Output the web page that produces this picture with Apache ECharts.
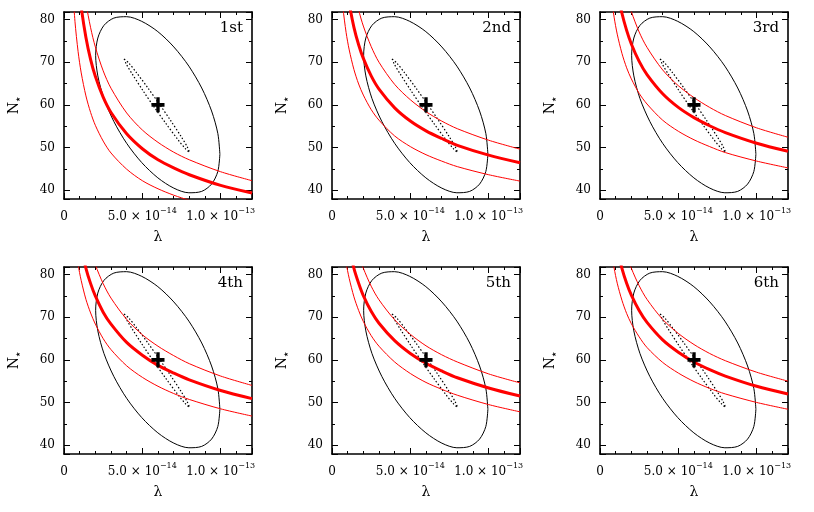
<!DOCTYPE html>
<html>
<head>
<meta charset="utf-8">
<script src="https://cdn.jsdelivr.net/npm/echarts@6.0.0/dist/echarts.min.js"></script>
<style>
  html, body { margin: 0; padding: 0; background: #fff; }
  #chart { width: 814px; height: 512px; }
</style>
</head>
<body>
<div id="chart"></div>
<script>
// lambda values are in units of 1e-14
const lambdaGrid = [0.5, 0.7, 0.9, 1.1, 1.4, 1.7, 2, 2.5, 3, 4, 5, 6, 7, 8, 10, 12]
const panelNames = ['1st', '2nd', '3rd', '4th', '5th', '6th']

// red bands (N* at every lambdaGrid point)
const lowerCurves = [
  [90.5, 79.6, 72.5, 67.5, 62.1, 58.2, 55.2, 51.5, 48.7, 44.9, 42.2, 40.3, 38.8, 37.6, 35.7, 34.3],
  [91.4, 82.8, 77.0, 72.9, 68.3, 64.9, 62.3, 58.9, 56.4, 52.7, 50.2, 48.3, 46.8, 45.5, 43.6, 42.1],
  [94.2, 86.1, 80.6, 76.6, 72.1, 68.7, 66.1, 62.7, 60.2, 56.4, 53.8, 51.8, 50.2, 48.8, 46.8, 45.2],
  [95.2, 87.6, 82.4, 78.6, 74.2, 71.0, 68.4, 65.0, 62.4, 58.6, 55.9, 53.8, 52.1, 50.7, 48.5, 46.8],
  [95.3, 87.9, 82.8, 79.1, 74.8, 71.6, 69.0, 65.7, 63.2, 59.5, 56.8, 54.7, 53.1, 51.7, 49.5, 47.8],
  [93.5, 86.4, 81.6, 78.0, 74.0, 70.9, 68.5, 65.4, 62.9, 59.4, 56.9, 54.9, 53.3, 52.0, 50.0, 48.4]
]
const centralCurves = [
  [113.0, 98.7, 89.4, 82.9, 75.8, 70.6, 66.7, 61.8, 58.2, 53.2, 49.7, 47.1, 45.2, 43.6, 41.1, 39.3],
  [106.3, 95.9, 88.9, 83.8, 78.2, 74.1, 70.9, 66.8, 63.7, 59.3, 56.2, 53.9, 52.1, 50.5, 48.2, 46.4],
  [108.1, 98.3, 91.7, 86.9, 81.5, 77.5, 74.3, 70.2, 67.1, 62.6, 59.4, 57.0, 55.1, 53.5, 51.0, 49.1],
  [104.8, 96.4, 90.7, 86.4, 81.5, 77.9, 75.0, 71.2, 68.4, 64.1, 61.1, 58.7, 56.9, 55.3, 52.8, 50.9],
  [104.4, 96.1, 90.5, 86.3, 81.5, 78.0, 75.1, 71.4, 68.6, 64.5, 61.5, 59.2, 57.4, 55.8, 53.4, 51.5],
  [104.1, 95.9, 90.4, 86.2, 81.5, 78.0, 75.2, 71.6, 68.8, 64.7, 61.8, 59.5, 57.7, 56.2, 53.8, 52.0]
]
const upperCurves = [
  [126.6, 110.2, 99.6, 92.1, 84.0, 78.1, 73.6, 68.0, 63.9, 58.1, 54.1, 51.2, 48.9, 47.1, 44.3, 42.2],
  [120.4, 108.0, 99.8, 93.8, 87.2, 82.3, 78.5, 73.7, 70.0, 64.8, 61.2, 58.4, 56.2, 54.4, 51.7, 49.6],
  [121.5, 110.0, 102.3, 96.7, 90.3, 85.6, 81.9, 77.1, 73.5, 68.2, 64.5, 61.7, 59.4, 57.5, 54.6, 52.4],
  [117.4, 107.5, 100.7, 95.7, 90.0, 85.7, 82.3, 77.9, 74.5, 69.5, 65.9, 63.2, 61.0, 59.1, 56.2, 54.0],
  [114.8, 105.4, 99.0, 94.2, 88.8, 84.7, 81.5, 77.3, 74.1, 69.4, 66.0, 63.3, 61.2, 59.5, 56.7, 54.6],
  [114.4, 105.1, 98.8, 94.0, 88.7, 84.7, 81.5, 77.4, 74.2, 69.5, 66.2, 63.6, 61.5, 59.8, 57.1, 55.0]
]

// black contour (same in every panel)
const ellipseLambda = [9.95, 9.82, 9.42, 8.79, 7.97, 7.01, 5.99, 4.96, 4.00, 3.18, 2.55, 2.16, 2.02,
  2.16, 2.55, 3.18, 4.00, 4.96, 5.99, 7.01, 7.97, 8.79, 9.42, 9.82, 9.95]
const ellipseN = [48.42, 53.26, 58.56, 63.96, 69.09, 73.60, 77.19, 79.61, 80.70, 80.37, 78.66, 75.69, 71.64,
  66.80, 61.50, 56.11, 50.97, 46.46, 42.87, 40.45, 39.36, 39.69, 41.40, 44.38, 48.42]

// narrow dotted contour
const innerLambda = [3.84, 4.12, 4.58, 5.34, 6.08, 6.80, 7.50, 7.87, 8.01, 7.73, 7.27, 6.51, 5.77, 5.05, 4.36, 3.98, 3.84]
const innerN = [70.80, 69.88, 67.80, 64.05, 60.23, 56.36, 52.43, 50.13, 48.85, 49.77, 51.85, 55.60, 59.42, 63.29, 67.22, 69.52, 70.80]

const bestFit = [6.0, 60]

const xTickValues = [0, 5, 10]
const xTickMantissa = ['0', '5.0', '1.0']
const xTickExponent = ['', '\u221214', '\u221213']

const serif = '"DejaVu Serif", serif'
const cols = [64, 332, 600]
const rows = [12, 267]
const W = 188
const H = 187

const pairs = (xs, ys) => xs.map((x, k) => [x, ys[k]])

const xLabel = (v) => {
  const idx = xTickValues.indexOf(v)
  if (idx < 0) return ''
  if (!xTickExponent[idx]) return '{m|' + xTickMantissa[idx] + '}'
  return '{m|' + xTickMantissa[idx] + ' \u00d7 10}{e|' + xTickExponent[idx] + '}'
}

const tickStyle = { color: '#000', width: 1 }
const frameStyle = { color: '#000', width: 1.6 }

const grids = []
const xAxes = []
const yAxes = []
const series = []
const texts = []

panelNames.forEach((name, i) => {
  const left = cols[i % 3]
  const top = rows[Math.floor(i / 3)]
  grids.push({ left: left, top: top, width: W, height: H })

  const baseX = {
    gridIndex: i, type: 'value', min: 0, max: 12, interval: 5,
    splitLine: { show: false },
    axisLine: { show: true, onZero: false, lineStyle: frameStyle },
    axisTick: { inside: true, length: 6, lineStyle: tickStyle },
    minorTick: { show: true, splitNumber: 5, length: 3, lineStyle: tickStyle }
  }
  xAxes.push(Object.assign({}, baseX, {
    position: 'bottom',
    name: 'λ', nameLocation: 'middle', nameGap: 31,
    nameTextStyle: { fontFamily: serif, fontSize: 14, color: '#000' },
    axisLabel: {
      margin: 8, showMaxLabel: false, formatter: xLabel,
      rich: {
        m: { fontFamily: serif, fontSize: 12, lineHeight: 16, verticalAlign: 'bottom', color: '#000' },
        e: { fontFamily: serif, fontSize: 8, lineHeight: 8, verticalAlign: 'top', color: '#000' }
      }
    }
  }))
  xAxes.push(Object.assign({}, baseX, { position: 'top', axisLabel: { show: false } }))

  const baseY = {
    gridIndex: i, type: 'value', min: 37.9, max: 81.8, splitNumber: 5,
    splitLine: { show: false },
    axisLine: { show: true, onZero: false, lineStyle: frameStyle },
    axisTick: { inside: true, length: 6, lineStyle: tickStyle },
    minorTick: { show: true, splitNumber: 2, length: 3, lineStyle: tickStyle }
  }
  yAxes.push(Object.assign({}, baseY, {
    position: 'left',
    name: '{n|N}{s|★}', nameLocation: 'middle', nameGap: 43,
    nameTextStyle: {
      rich: {
        n: { fontFamily: serif, fontSize: 14, lineHeight: 16, verticalAlign: 'bottom', color: '#000' },
        s: { fontFamily: '"DejaVu Sans", sans-serif', fontSize: 6, lineHeight: 6, verticalAlign: 'bottom', color: '#000' }
      }
    },
    axisLabel: {
      margin: 9, showMinLabel: false, showMaxLabel: false,
      fontFamily: serif, fontSize: 12, color: '#000',
      formatter: (v) => (v % 10 === 0 ? String(v) : '')
    }
  }))
  yAxes.push(Object.assign({}, baseY, { position: 'right', axisLabel: { show: false } }))

  const ax = { xAxisIndex: 2 * i, yAxisIndex: 2 * i }
  series.push(Object.assign({
    type: 'line', data: pairs(ellipseLambda, ellipseN), smooth: 0.3,
    showSymbol: false, lineStyle: { color: '#000', width: 1 }
  }, ax))
  series.push(Object.assign({
    type: 'line', data: pairs(innerLambda, innerN), smooth: 0.3,
    showSymbol: false, lineStyle: { color: '#000', width: 1.2, type: [1.5, 2] }
  }, ax))
  series.push(Object.assign({
    type: 'line', data: pairs(lambdaGrid, lowerCurves[i]), smooth: 0.3,
    showSymbol: false, lineStyle: { color: '#ff0000', width: 1 }
  }, ax))
  series.push(Object.assign({
    type: 'line', data: pairs(lambdaGrid, upperCurves[i]), smooth: 0.3,
    showSymbol: false, lineStyle: { color: '#ff0000', width: 1 }
  }, ax))
  series.push(Object.assign({
    type: 'line', data: pairs(lambdaGrid, centralCurves[i]), smooth: 0.3,
    showSymbol: false, lineStyle: { color: '#ff0000', width: 3 }
  }, ax))
  series.push(Object.assign({
    type: 'scatter', data: [bestFit], z: 5,
    symbol: 'path://M3.7,0H6.3V3.7H10V6.3H6.3V10H3.7V6.3H0V3.7H3.7Z',
    symbolSize: [13, 15], itemStyle: { color: '#000', opacity: 1 }
  }, ax))

  texts.push({
    type: 'text', x: left + W - 9, y: top + 16, z: 10,
    style: { text: name, align: 'right', verticalAlign: 'middle', font: '15px ' + serif, fill: '#000' }
  })
})

const myChart = echarts.init(document.getElementById('chart'))
myChart.setOption({
  animation: false,
  backgroundColor: '#fff',
  grid: grids,
  xAxis: xAxes,
  yAxis: yAxes,
  series: series,
  graphic: texts
})
</script>
</body>
</html>
